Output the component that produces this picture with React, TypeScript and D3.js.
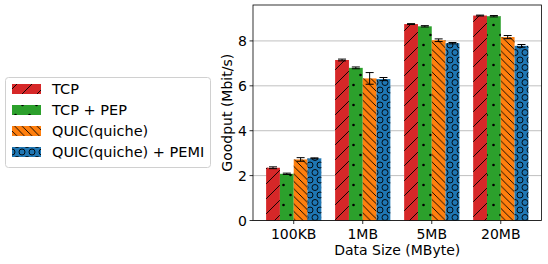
import { useRef, useEffect } from 'react';
import { select, scaleLinear } from 'd3';

const categories = ['100KB', '1MB', '5MB', '20MB'];
const seriesNames = ['TCP', 'TCP + PEP', 'QUIC(quiche)', 'QUIC(quiche) + PEMI'];
const tcp = [2.35, 7.15, 8.75, 9.13];
const tcpPep = [2.08, 6.8, 8.65, 9.1];
const quic = [2.72, 6.33, 8.03, 8.17];
const quicPemi = [2.77, 6.3, 7.9, 7.78];
const tcpErr = [0.04, 0.04, 0.02, 0.02];
const tcpPepErr = [0.03, 0.04, 0.03, 0.03];
const quicErr = [0.08, 0.26, 0.06, 0.07];
const quicPemiErr = [0.02, 0.07, 0.03, 0.06];
const yTicks = [0, 2, 4, 6, 8];

const colors = ['#d62728', '#2ca02c', '#ff7f0e', '#1f77b4'];
const hatchIds = ['h-slash', 'h-dots', 'h-back', 'h-circ'];

const W = 548, H = 264;
const plot = { left: 253, right: 541.5, top: 5, bottom: 220.5 };
const font = 'DejaVu Sans, sans-serif';
const fs = '14px';

const App = () => {
    const ref = useRef(null);

    useEffect(() => {
        const svg = select(ref.current);
        svg.selectAll('*').remove();

        const values = [tcp, tcpPep, quic, quicPemi];
        const errs = [tcpErr, tcpPepErr, quicErr, quicPemiErr];

        const x = scaleLinear().domain([-0.59, 3.59]).range([plot.left, plot.right]);
        const y = scaleLinear().domain([0, 9.6]).range([plot.bottom, plot.top]);
        const bw = x(0.2) - x(0);

        // hatch patterns
        const defs = svg.append('defs');
        const p1 = defs.append('pattern').attr('id', hatchIds[0]).attr('patternUnits', 'userSpaceOnUse')
            .attr('width', 15).attr('height', 15);
        p1.append('path').attr('d', 'M0,15 L15,0 M-3,3 L3,-3 M12,18 L18,12')
            .attr('stroke', '#000').attr('stroke-width', 0.9);
        const p2 = defs.append('pattern').attr('id', hatchIds[1]).attr('patternUnits', 'userSpaceOnUse')
            .attr('width', 14).attr('height', 20);
        ;[[3.5, 5], [10.5, 15]].forEach(([cx, cy]) =>
            p2.append('circle').attr('cx', cx).attr('cy', cy).attr('r', 1.3).attr('fill', '#000'));
        const p3 = defs.append('pattern').attr('id', hatchIds[2]).attr('patternUnits', 'userSpaceOnUse')
            .attr('width', 7.5).attr('height', 7.5);
        p3.append('path').attr('d', 'M0,0 L7.5,7.5 M-2,5.5 L2,9.5 M5.5,-2 L9.5,2')
            .attr('stroke', '#000').attr('stroke-width', 0.9);
        const p4 = defs.append('pattern').attr('id', hatchIds[3]).attr('patternUnits', 'userSpaceOnUse')
            .attr('width', 10).attr('height', 15);
        ;[[0, 0], [10, 0], [5, 7.5], [0, 15], [10, 15]].forEach(([cx, cy]) =>
            p4.append('circle').attr('cx', cx).attr('cy', cy).attr('r', 3)
                .attr('fill', 'none').attr('stroke', '#000').attr('stroke-width', 0.9));

        // grid
        svg.append('g').selectAll('line').data(yTicks).enter().append('line')
            .attr('x1', plot.left).attr('x2', plot.right)
            .attr('y1', d => y(d)).attr('y2', d => y(d))
            .attr('stroke', '#b0b0b0').attr('stroke-width', 0.8);

        // bars
        values.forEach((vals, s) => {
            const g = svg.append('g');
            const off = (s - 1.5) * 0.2;
            g.selectAll('rect.f').data(vals).enter().append('rect')
                .attr('x', (d, i) => x(i + off) - bw / 2)
                .attr('y', d => y(d))
                .attr('width', bw)
                .attr('height', d => y(0) - y(d))
                .attr('fill', colors[s]);
            g.selectAll('rect.h').data(vals).enter().append('rect')
                .attr('x', (d, i) => x(i + off) - bw / 2)
                .attr('y', d => y(d))
                .attr('width', bw)
                .attr('height', d => y(0) - y(d))
                .attr('fill', `url(#${hatchIds[s]})`);
            // error bars
            const eb = g.selectAll('g.e').data(vals).enter().append('g');
            eb.append('line')
                .attr('x1', (d, i) => x(i + off)).attr('x2', (d, i) => x(i + off))
                .attr('y1', (d, i) => y(d - errs[s][i])).attr('y2', (d, i) => y(d + errs[s][i]))
                .attr('stroke', '#000').attr('stroke-width', 1);
            ;[-1, 1].forEach(sign => {
                eb.append('line')
                    .attr('x1', (d, i) => x(i + off) - 4).attr('x2', (d, i) => x(i + off) + 4)
                    .attr('y1', (d, i) => y(d + sign * errs[s][i])).attr('y2', (d, i) => y(d + sign * errs[s][i]))
                    .attr('stroke', '#000').attr('stroke-width', 1);
            });
        });

        // spines
        svg.append('rect')
            .attr('x', plot.left).attr('y', plot.top)
            .attr('width', plot.right - plot.left).attr('height', plot.bottom - plot.top)
            .attr('fill', 'none').attr('stroke', '#000').attr('stroke-width', 0.8);

        // y ticks
        const yt = svg.append('g').selectAll('g').data(yTicks).enter().append('g');
        yt.append('line').attr('x1', plot.left - 3.5).attr('x2', plot.left)
            .attr('y1', d => y(d)).attr('y2', d => y(d)).attr('stroke', '#000').attr('stroke-width', 0.8);
        yt.append('text').attr('x', plot.left - 6).attr('y', d => y(d))
            .attr('dy', '0.36em').attr('text-anchor', 'end')
            .style('font-family', font).style('font-size', fs).text(d => d);

        // x ticks
        const xt = svg.append('g').selectAll('g').data(categories).enter().append('g');
        xt.append('line').attr('x1', (d, i) => x(i)).attr('x2', (d, i) => x(i))
            .attr('y1', plot.bottom).attr('y2', plot.bottom + 3.5).attr('stroke', '#000').attr('stroke-width', 0.8);
        xt.append('text').attr('x', (d, i) => x(i)).attr('y', 238.5)
            .attr('text-anchor', 'middle')
            .style('font-family', font).style('font-size', fs).text(d => d);

        // axis labels
        svg.append('text').attr('x', (plot.left + plot.right) / 2).attr('y', 254.5)
            .attr('text-anchor', 'middle').style('font-family', font).style('font-size', fs)
            .text('Data Size (MByte)');
        svg.append('text').attr('transform', `translate(231.5, ${(plot.top + plot.bottom) / 2}) rotate(-90)`)
            .attr('text-anchor', 'middle').style('font-family', font).style('font-size', fs)
            .text('Goodput (Mbit/s)');

        // legend
        const lg = svg.append('g');
        lg.append('rect').attr('x', 5.5).attr('y', 77.5).attr('width', 205).attr('height', 90)
            .attr('rx', 3).attr('fill', '#fff').attr('stroke', '#d0d0d0').attr('stroke-width', 1);
        const items = lg.selectAll('g.i').data(seriesNames).enter().append('g')
            .attr('transform', (d, i) => `translate(12, ${89 + i * 21})`);
        items.append('rect').attr('x', 0).attr('y', -5).attr('width', 29).attr('height', 10)
            .attr('fill', (d, i) => colors[i]);
        items.append('rect').attr('x', 0).attr('y', -5).attr('width', 29).attr('height', 10)
            .attr('fill', (d, i) => `url(#${hatchIds[i]})`);
        items.append('text').attr('x', 40).attr('dy', '0.36em')
            .style('font-family', font).style('font-size', '14.5px').text(d => d);
    }, []);

    return (
        <svg ref={ref} width={W} height={H}
            style={{ position: 'absolute', left: 0, top: 0, background: '#fff' }} />
    );
};

export default App;
